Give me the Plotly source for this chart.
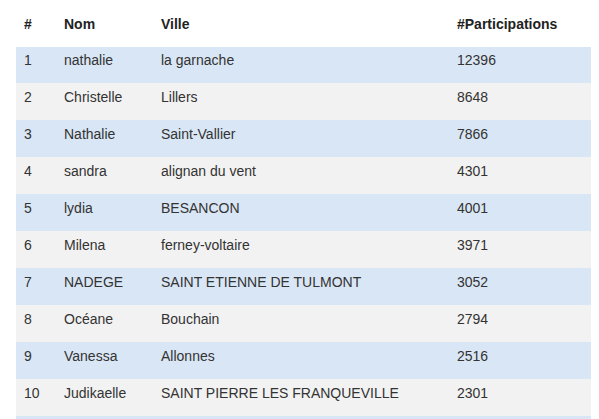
import plotly.graph_objects as go

ranks = [str(i) for i in range(1, 12)]
noms = ["nathalie", "Christelle", "Nathalie", "sandra", "lydia", "Milena", "NADEGE", "Océane", "Vanessa", "Judikaelle", ""]
villes = ["la garnache", "Lillers", "Saint-Vallier", "alignan du vent", "BESANCON", "ferney-voltaire",
          "SAINT ETIENNE DE TULMONT", "Bouchain", "Allonnes", "SAINT PIERRE LES FRANQUEVILLE", ""]
participations = ["12396", "8648", "7866", "4301", "4001", "3971", "3052", "2794", "2516", "2301", ""]
headers = ["#", "Nom", "Ville", "#Participations"]

fill = ["#d9e6f5" if i % 2 == 0 else "#f2f2f2" for i in range(len(ranks))]

fig = go.Figure(go.Table(
    columnwidth=[40, 97, 296, 141],
    header=dict(values=["<b>%s</b>" % h for h in headers], fill_color="white",
                line_color="white", align="left", height=38,
                font=dict(family="Arial, Liberation Sans", size=14, color="#222")),
    cells=dict(values=[ranks, noms, villes, participations], fill_color=[fill]*4,
               line_color=[fill]*4, align="left", height=37,
               font=dict(family="Arial, Liberation Sans", size=14, color="#333")),
))
fig.update_layout(width=599, height=419, margin=dict(l=8, r=17, t=0, b=0),
                  paper_bgcolor="white")
fig.write_html("out.html")
